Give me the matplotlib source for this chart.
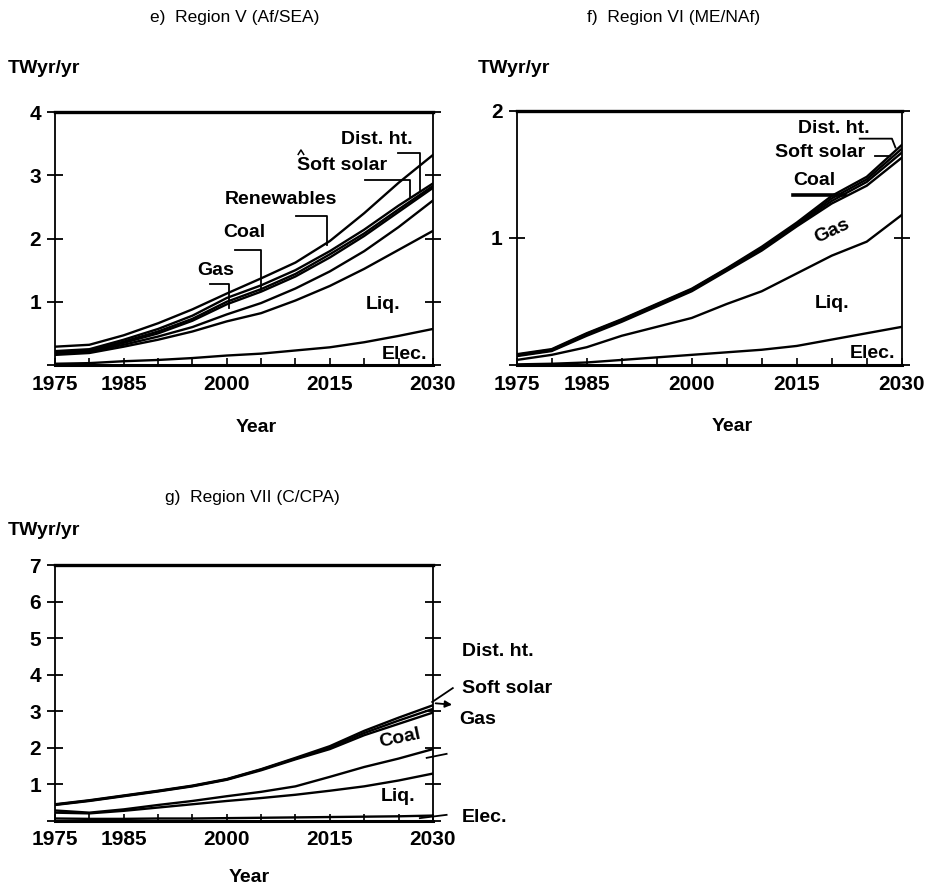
import numpy as np
import matplotlib.pyplot as plt

plt.rcParams['font.family'] = ['Liberation Sans', 'DejaVu Sans']

years = [1975, 1980, 1985, 1990, 1995, 2000, 2005, 2010, 2015, 2020, 2025, 2030]

# Region V (Af/SEA), TWyr/yr per fuel (stacked from the bottom)
v_elec = [0.02, 0.03, 0.06, 0.08, 0.11, 0.15, 0.18, 0.23, 0.28, 0.36, 0.46, 0.57]
v_liq = [0.14, 0.16, 0.23, 0.32, 0.42, 0.54, 0.64, 0.79, 0.97, 1.16, 1.36, 1.55]
v_gas = [0.02, 0.02, 0.03, 0.05, 0.07, 0.11, 0.16, 0.19, 0.23, 0.28, 0.36, 0.48]
v_coal = [0.02, 0.01, 0.03, 0.05, 0.10, 0.16, 0.18, 0.19, 0.22, 0.24, 0.24, 0.20]
v_renew = [0.01, 0.01, 0.02, 0.03, 0.03, 0.04, 0.04, 0.04, 0.05, 0.04, 0.04, 0.03]
v_soft = [0.01, 0.02, 0.03, 0.04, 0.05, 0.06, 0.06, 0.06, 0.05, 0.06, 0.06, 0.04]
v_dist = [0.07, 0.07, 0.07, 0.09, 0.10, 0.07, 0.11, 0.12, 0.16, 0.26, 0.36, 0.45]

# Region VI (ME/NAf)
vi_elec = [0.005, 0.01, 0.02, 0.04, 0.06, 0.08, 0.10, 0.12, 0.15, 0.20, 0.25, 0.30]
vi_liq = [0.035, 0.07, 0.12, 0.19, 0.24, 0.29, 0.38, 0.46, 0.57, 0.66, 0.72, 0.88]
vi_gas = [0.03, 0.03, 0.09, 0.11, 0.16, 0.21, 0.26, 0.32, 0.37, 0.41, 0.44, 0.45]
vi_coal = [0.005, 0.005, 0.01, 0.01, 0.01, 0.01, 0.01, 0.01, 0.01, 0.02, 0.03, 0.04]
vi_soft = [0.005, 0.005, 0.005, 0.005, 0.005, 0.005, 0.005, 0.01, 0.01, 0.02, 0.02, 0.03]
vi_dist = [0.005, 0.005, 0.005, 0.005, 0.005, 0.005, 0.005, 0.01, 0.01, 0.02, 0.02, 0.03]

# Region VII (C/CPA)
vii_elec = [0.06, 0.05, 0.05, 0.06, 0.06, 0.07, 0.08, 0.09, 0.10, 0.11, 0.12, 0.14]
vii_liq = [0.16, 0.15, 0.22, 0.30, 0.39, 0.47, 0.54, 0.62, 0.72, 0.83, 0.98, 1.15]
vii_gas = [0.06, 0.02, 0.04, 0.07, 0.09, 0.13, 0.17, 0.23, 0.38, 0.53, 0.60, 0.67]
vii_coal = [0.15, 0.32, 0.36, 0.37, 0.40, 0.45, 0.59, 0.74, 0.76, 0.87, 0.95, 1.00]
vii_soft = [0.01, 0.01, 0.01, 0.01, 0.01, 0.01, 0.02, 0.02, 0.04, 0.06, 0.09, 0.10]
vii_dist = [0.01, 0.01, 0.01, 0.01, 0.01, 0.01, 0.01, 0.02, 0.04, 0.06, 0.08, 0.10]

year_labels = [1975, 1985, 2000, 2015, 2030]

fig = plt.figure(figsize=(9.4, 8.94), dpi=100)
lab = dict(fontsize=14, fontweight='bold', ha='center', va='center')


def draw_panel(ax, layers, ymax):
    tops = np.cumsum(np.array(layers), axis=0)
    for top in tops:
        ax.plot(years, top, color='black', lw=1.7, solid_joinstyle='round')
    ax.set_xlim(1975, 2030)
    ax.set_ylim(0, ymax)
    ax.set_xticks(year_labels)
    ax.set_xticks(range(1975, 2031, 5), minor=True)
    ax.set_yticks(range(0, ymax + 1))
    ax.set_yticklabels([''] + [str(i) for i in range(1, ymax + 1)])
    ax.tick_params(axis='y', direction='inout', length=12, width=1.3,
                   left=True, right=True, labelsize=15, pad=4)
    ax.tick_params(axis='x', which='both', direction='in', length=5, width=1.2,
                   labelsize=15, pad=7)
    for t in ax.get_xticklabels() + ax.get_yticklabels():
        t.set_fontweight('bold')
    ax.spines['top'].set_linewidth(2.4)
    ax.spines['bottom'].set_linewidth(2.2)
    ax.spines['left'].set_linewidth(1.3)
    ax.spines['right'].set_linewidth(1.3)


# === e) Region V ===
ax1 = fig.add_axes([0.0585, 0.5917, 0.402, 0.283])
draw_panel(ax1, [v_elec, v_liq, v_gas, v_coal, v_renew, v_soft, v_dist], 4)
ax1.text(1998.4, 1.50, 'Gas', **lab)
ax1.plot([1997.6, 2000.3, 2000.3], [1.28, 1.28, 0.90], color='black', lw=1.3)
ax1.text(2002.6, 2.09, 'Coal', **lab)
ax1.plot([2001.2, 2005.0, 2005.0], [1.82, 1.82, 1.19], color='black', lw=1.3)
ax1.text(2007.9, 2.61, 'Renewables', **lab)
ax1.plot([2010.1, 2014.6, 2014.6], [2.36, 2.36, 1.90], color='black', lw=1.3)
ax1.text(2016.8, 3.15, 'Soft solar', **lab)
# small stray caret printed over the S
ax1.plot([2010.4, 2010.8, 2011.2], [3.33, 3.40, 3.33], color='black', lw=1.1)
ax1.plot([2020.1, 2026.7, 2026.7], [2.92, 2.92, 2.66], color='black', lw=1.3)
ax1.text(2021.9, 3.57, 'Dist. ht.', **lab)
ax1.plot([2024.9, 2028.1, 2028.1], [3.35, 3.35, 2.77], color='black', lw=1.3)
ax1.text(2022.7, 0.95, 'Liq.', **lab)
ax1.text(2025.9, 0.16, 'Elec.', **lab)

# === f) Region VI ===
ax2 = fig.add_axes([0.5497, 0.5917, 0.4096, 0.2845])
draw_panel(ax2, [vi_elec, vi_liq, vi_gas, vi_coal, vi_soft, vi_dist], 2)
ax2.text(2020.3, 1.86, 'Dist. ht.', **lab)
ax2.plot([2024.0, 2028.6, 2029.1], [1.78, 1.78, 1.71], color='black', lw=1.3)
ax2.text(2018.3, 1.67, 'Soft solar', **lab)
ax2.plot([2026.2, 2028.3], [1.64, 1.64], color='black', lw=1.3)
ax2.text(2017.5, 1.45, 'Coal', **lab)
ax2.plot([2014.4, 2021.9], [1.34, 1.34], color='black', lw=2.6)
ax2.text(2020.0, 1.05, 'Gas', rotation=25, **lab)
ax2.text(2020.0, 0.48, 'Liq.', **lab)
ax2.text(2025.8, 0.09, 'Elec.', **lab)

# === g) Region VII ===
ax3 = fig.add_axes([0.0585, 0.0820, 0.402, 0.286])
draw_panel(ax3, [vii_elec, vii_liq, vii_gas, vii_coal, vii_soft, vii_dist], 7)
side = dict(fontsize=14, fontweight='bold', ha='left', va='center')
ax3.text(2034.2, 4.62, 'Dist. ht.', **side)
ax3.plot([2029.9, 2032.9], [3.25, 3.63], color='black', lw=1.3, clip_on=False)
ax3.text(2034.2, 3.63, 'Soft solar', **side)
ax3.annotate('', xy=(2033.2, 3.17), xytext=(2030.0, 3.22),
             arrowprops=dict(arrowstyle='-|>', color='black', lw=1.3, mutation_scale=10),
             annotation_clip=False)
ax3.text(2033.9, 2.76, 'Gas', **side)
ax3.plot([2029.1, 2032.0], [1.72, 1.83], color='black', lw=1.3, clip_on=False)
ax3.text(2025.2, 2.27, 'Coal', rotation=12, **lab)
ax3.text(2024.9, 0.65, 'Liq.', **lab)
ax3.text(2034.2, 0.10, 'Elec.', **side)
ax3.plot([2028.1, 2032.0], [0.07, 0.16], color='black', lw=1.3, clip_on=False)

# titles and axis captions
title_kw = dict(fontsize=12.5, ha='center', va='center')
fig.text(0.250, 0.980, 'e)  Region V (Af/SEA)', **title_kw)
fig.text(0.717, 0.980, 'f)  Region VI (ME/NAf)', **title_kw)
fig.text(0.269, 0.444, 'g)  Region VII (C/CPA)', **title_kw)

cap_kw = dict(fontsize=14, fontweight='bold', va='center')
fig.text(0.0085, 0.923, 'TWyr/yr', ha='left', **cap_kw)
fig.text(0.5085, 0.923, 'TWyr/yr', ha='left', **cap_kw)
fig.text(0.0085, 0.407, 'TWyr/yr', ha='left', **cap_kw)
fig.text(0.273, 0.522, 'Year', ha='center', **cap_kw)
fig.text(0.779, 0.523, 'Year', ha='center', **cap_kw)
fig.text(0.265, 0.018, 'Year', ha='center', **cap_kw)

fig.savefig('out.png', dpi=100)
